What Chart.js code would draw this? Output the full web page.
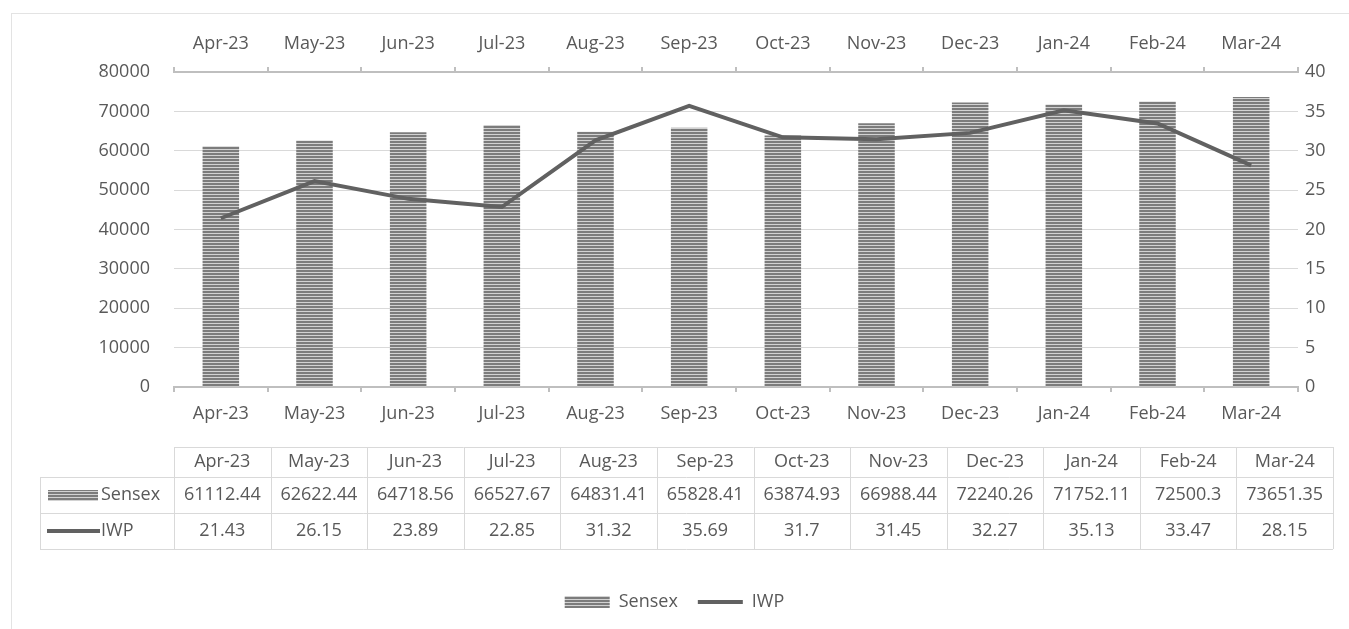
<!DOCTYPE html>
<html lang="en">
  <head>
    <meta charset="UTF-8" />
    <title>Sensex vs IWP</title>
    <script src="https://cdn.jsdelivr.net/npm/chart.js@4.4.1/dist/chart.umd.min.js"></script>
    <style>
      body { margin: 0; background: #ffffff; }
    </style>
  </head>
  <body>
    <canvas id="myChart" width="1349" height="629"></canvas>
    <script>
      // data
      var months = ["Apr-23", "May-23", "Jun-23", "Jul-23", "Aug-23", "Sep-23", "Oct-23", "Nov-23", "Dec-23", "Jan-24", "Feb-24", "Mar-24"];
      var sensex = [61112.44, 62622.44, 64718.56, 66527.67, 64831.41, 65828.41, 63874.93, 66988.44, 72240.26, 71752.11, 72500.3, 73651.35];
      var iwp = [21.43, 26.15, 23.89, 22.85, 31.32, 35.69, 31.7, 31.45, 32.27, 35.13, 33.47, 28.15];
      var seriesNames = ["Sensex", "IWP"];

      var textColor = "#595959";
      var gridColor = "#d9d9d9";
      var axisColor = "#bfbfbf";
      var lineColor = "#616161";
      var font = { family: "'Open Sans', sans-serif", size: 18 };

      // striped fill like the excel pattern
      var pc = document.createElement("canvas");
      pc.width = 4;
      pc.height = 3;
      var pctx = pc.getContext("2d");
      pctx.fillStyle = "#d2d2d2";
      pctx.fillRect(0, 0, 4, 3);
      pctx.fillStyle = "#7c7c7c";
      pctx.fillRect(0, 0, 4, 2);
      var ctx = document.getElementById("myChart").getContext("2d");
      var stripes = ctx.createPattern(pc, "repeat");

      // table under the plot
      var tablePlugin = {
        id: "dataTable",
        beforeDraw: function (chart) {
          var c = chart.ctx;
          c.save();
          c.strokeStyle = "#e3e3e3";
          c.lineWidth = 1;
          c.strokeRect(11.5, 13.5, chart.width, chart.height);
          c.restore();
        },
        afterDraw: function (chart) {
          var c = chart.ctx;
          var left = chart.chartArea.left;
          var right = 1333;
          var keyLeft = 40;
          var rows = [447, 477, 513, 549];
          var w = (right - left) / months.length;
          c.save();
          c.strokeStyle = gridColor;
          c.lineWidth = 1;
          c.beginPath();
          c.moveTo(left, rows[0] + 0.5);
          c.lineTo(right, rows[0] + 0.5);
          for (var r = 1; r < rows.length; r++) {
            c.moveTo(keyLeft, rows[r] + 0.5);
            c.lineTo(right, rows[r] + 0.5);
          }
          c.moveTo(keyLeft + 0.5, rows[1]);
          c.lineTo(keyLeft + 0.5, rows[3]);
          for (var i = 0; i <= months.length; i++) {
            var x = Math.round(left + i * w) + 0.5;
            c.moveTo(x, rows[0]);
            c.lineTo(x, rows[3]);
          }
          c.stroke();

          c.font = font.size + "px " + font.family;
          c.fillStyle = textColor;
          c.textAlign = "center";
          c.textBaseline = "middle";
          for (var j = 0; j < months.length; j++) {
            var cx = left + (j + 0.5) * w;
            c.fillText(months[j], cx, (rows[0] + rows[1]) / 2);
            c.fillText(String(sensex[j]), cx, (rows[1] + rows[2]) / 2);
            c.fillText(String(iwp[j]), cx, (rows[2] + rows[3]) / 2);
          }

          // legend keys in first column
          var y1 = (rows[1] + rows[2]) / 2;
          var y2 = (rows[2] + rows[3]) / 2;
          c.fillStyle = stripes;
          c.fillRect(48, y1 - 5, 50, 11);
          c.strokeStyle = lineColor;
          c.lineWidth = 4;
          c.beginPath();
          c.moveTo(47, y2);
          c.lineTo(100, y2);
          c.stroke();
          c.fillStyle = textColor;
          c.textAlign = "left";
          c.fillText(seriesNames[0], 101, y1);
          c.fillText(seriesNames[1], 101, y2);
          c.restore();
        },
      };

      new Chart(ctx, {
        type: "bar",
        data: {
          labels: months,
          datasets: [
            {
              label: seriesNames[0],
              data: sensex,
              backgroundColor: stripes,
              borderWidth: 0,
              yAxisID: "y",
              order: 1,
              pointStyle: "rect",
            },
            {
              type: "line",
              label: seriesNames[1],
              data: iwp,
              borderColor: lineColor,
              backgroundColor: lineColor,
              borderWidth: 4,
              pointRadius: 0,
              tension: 0,
              yAxisID: "y1",
              order: 0,
              pointStyle: "line",
            },
          ],
        },
        plugins: [tablePlugin],
        options: {
          responsive: false,
          animation: false,
          layout: { padding: { top: 0, bottom: 8, left: 0, right: 0 } },
          datasets: { bar: { categoryPercentage: 1, barPercentage: 0.39 } },
          plugins: {
            tooltip: { enabled: false },
            legend: {
              position: "bottom",
              labels: {
                color: textColor,
                font: font,
                usePointStyle: true,
                pointStyleWidth: 45,
                boxHeight: 12,
                padding: 20,
                sort: function (a, b) { return a.datasetIndex - b.datasetIndex; },
              },
            },
          },
          scales: {
            x: {
              position: "bottom",
              offset: true,
              grid: { offset: true, drawOnChartArea: false, drawTicks: true, tickLength: 5, color: axisColor, lineWidth: 2 },
              border: { display: true, color: axisColor, width: 2 },
              ticks: { color: textColor, font: font, padding: 11, maxRotation: 0 },
              afterFit: function (s) { s.height = 186; },
            },
            x2: {
              type: "category",
              position: "top",
              labels: months,
              offset: true,
              grid: { offset: true, drawOnChartArea: false, drawTicks: true, tickLength: 5, color: axisColor, lineWidth: 2 },
              border: { display: true, color: axisColor, width: 2 },
              ticks: { color: textColor, font: font, padding: 12, maxRotation: 0 },
              afterFit: function (s) { s.height = 72; },
            },
            y: {
              position: "left",
              min: 0,
              max: 80000,
              ticks: {
                stepSize: 10000,
                color: textColor,
                font: font,
                padding: 24,
                callback: function (v) { return String(v); },
              },
              grid: { color: gridColor, lineWidth: 1, drawTicks: false },
              border: { display: false },
              afterFit: function (s) { s.width = 174; },
            },
            y1: {
              position: "right",
              min: 0,
              max: 40,
              ticks: { stepSize: 5, color: textColor, font: font, padding: 7 },
              grid: { drawOnChartArea: false, drawTicks: false },
              border: { display: false },
              afterFit: function (s) { s.width = 51; },
            },
          },
        },
      });
    </script>
  </body>
</html>
